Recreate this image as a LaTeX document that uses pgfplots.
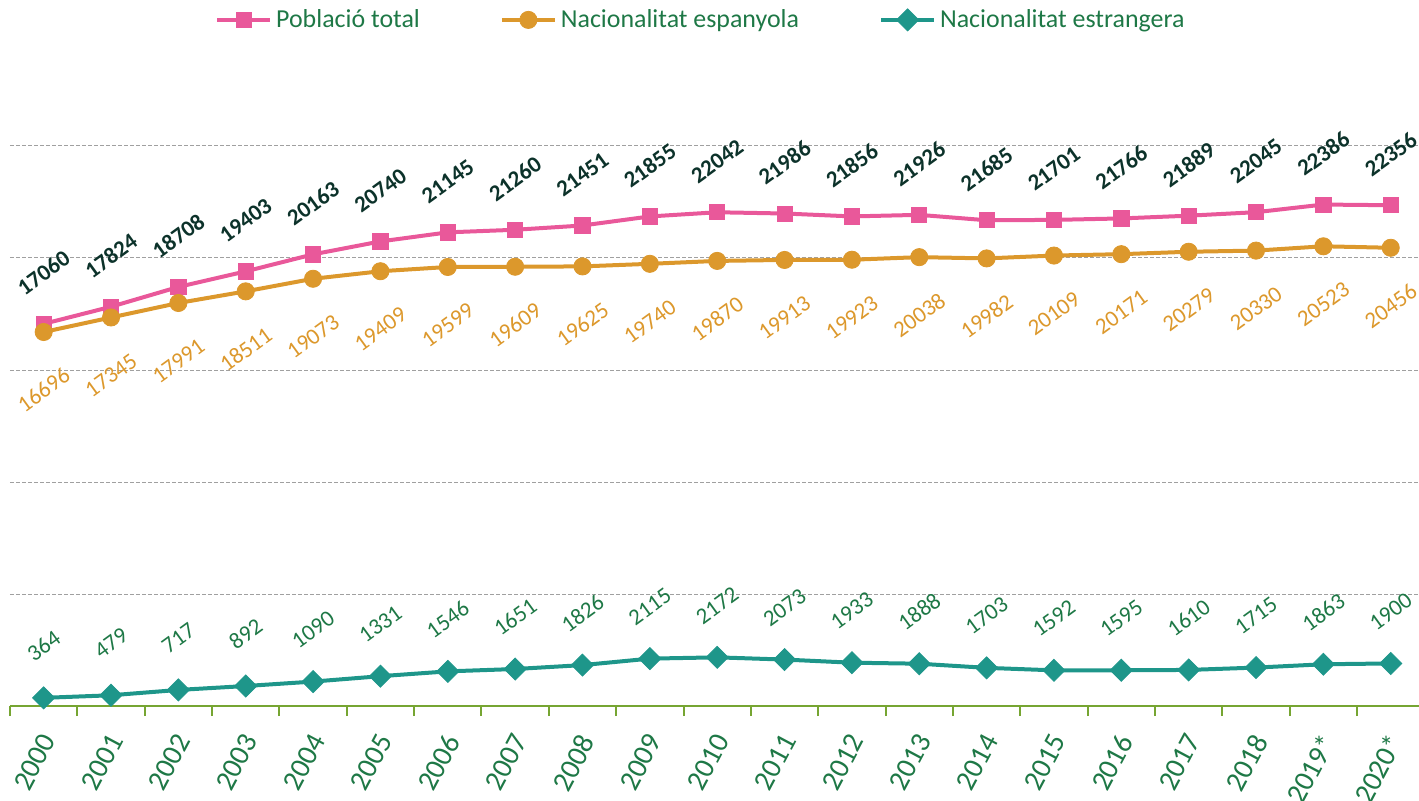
\documentclass[border=0pt]{standalone}
\usepackage{pgfplots}
\pgfplotsset{compat=1.18}
\usepackage{fontspec}
\setmainfont{Carlito}
\definecolor{cpink}{RGB}{233,88,154}
\definecolor{corange}{RGB}{220,152,44}
\definecolor{cteal}{RGB}{30,150,138}
\definecolor{textgreen}{RGB}{30,120,70}
\definecolor{darklabel}{RGB}{12,50,42}
\definecolor{axisgreen}{RGB}{118,165,50}
\definecolor{gridgray}{RGB}{160,160,160}
\begin{document}
\begin{tikzpicture}
\useasboundingbox (-5bp,-47.5bp) rectangle (704.5bp,353bp);
\begin{axis}[
  scale only axis, width=704.5bp, height=336bp,
  xmin=-0.5, xmax=20.42, ymin=0, ymax=30000,
  clip=false,
  scaled y ticks=false,
  axis x line*=bottom, axis y line*=left,
  y axis line style={draw=none},
  x axis line style={draw=axisgreen, line width=1bp, -},
  ytick={5000,10000,15000,20000,25000}, yticklabels={},
  ytick style={draw=none},
  ymajorgrids,
  grid style={draw=gridgray, line width=0.5bp, dash pattern=on 2bp off 1bp},
  xtick={0,1,2,3,4,5,6,7,8,9,10,11,12,13,14,15,16,17,18,19,20},
  xticklabels={2000,2001,2002,2003,2004,2005,2006,2007,2008,2009,2010,2011,2012,2013,2014,2015,2016,2017,2018,2019*,2020*},
  minor xtick={-0.5,0.5,1.5,2.5,3.5,4.5,5.5,6.5,7.5,8.5,9.5,10.5,11.5,12.5,13.5,14.5,15.5,16.5,17.5,18.5,19.5},
  major x tick style={draw=none},
  minor x tick style={draw=axisgreen, line width=1bp},
  tick align=outside, minor tick length=5bp,
  xticklabel style={xshift=4bp, yshift=-8bp, rotate=62, anchor=east, font=\fontsize{14.5}{16}\selectfont, text=textgreen},
  /pgf/number format/assume math mode=true,
  /pgf/number format/1000 sep={},
  legend style={draw=none, fill=none, legend columns=3,
    at={(axis description cs:0.491,1.021)}, anchor=center,
    font=\fontsize{13}{15}\selectfont, text=textgreen,
    /tikz/every even column/.append style={column sep=38bp}},
  legend image code/.code={\draw[mark repeat=2,mark phase=2] plot coordinates {(0bp,0bp)(13.25bp,0bp)(26.5bp,0bp)};},
]
\addplot[color=cpink, line width=2bp, mark=square*, mark size=3.8bp, mark options={solid, line width=0.4bp},
  nodes near coords,
  every node near coord/.append style={anchor=center, yshift=25.5bp, rotate=36, font=\bfseries\fontsize{11.5}{13}\selectfont, text=darklabel}]
coordinates {(0,17060)(1,17824)(2,18708)(3,19403)(4,20163)(5,20740)(6,21145)(7,21260)(8,21451)(9,21855)(10,22042)(11,21986)(12,21856)(13,21926)(14,21685)(15,21701)(16,21766)(17,21889)(18,22045)(19,22386)(20,22356)};
\addlegendentry{Població total}
\addplot[color=corange, line width=2bp, mark=*, mark size=4.3bp, mark options={solid, line width=0.4bp},
  nodes near coords,
  every node near coord/.append style={anchor=center, yshift=-29bp, rotate=36, font=\fontsize{11.5}{13}\selectfont, text=corange}]
coordinates {(0,16696)(1,17345)(2,17991)(3,18511)(4,19073)(5,19409)(6,19599)(7,19609)(8,19625)(9,19740)(10,19870)(11,19913)(12,19923)(13,20038)(14,19982)(15,20109)(16,20171)(17,20279)(18,20330)(19,20523)(20,20456)};
\addlegendentry{Nacionalitat espanyola}
\addplot[color=cteal, line width=2bp, mark=square*, mark size=3.9bp, mark options={solid, rotate=45, line width=0.4bp},
  nodes near coords,
  every node near coord/.append style={anchor=center, yshift=26bp, rotate=36, font=\fontsize{11.5}{13}\selectfont, text=textgreen}]
coordinates {(0,364)(1,479)(2,717)(3,892)(4,1090)(5,1331)(6,1546)(7,1651)(8,1826)(9,2115)(10,2172)(11,2073)(12,1933)(13,1888)(14,1703)(15,1592)(16,1595)(17,1610)(18,1715)(19,1863)(20,1900)};
\addlegendentry{Nacionalitat estrangera}
\end{axis}
\end{tikzpicture}
\end{document}
